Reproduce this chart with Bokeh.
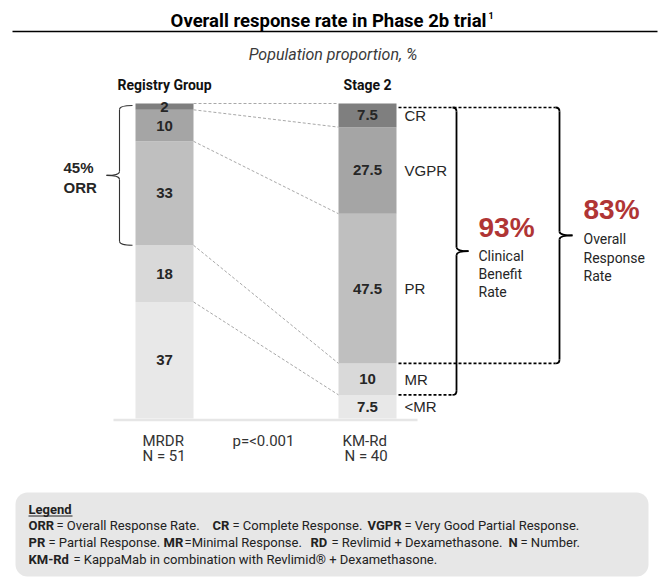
from bokeh.plotting import figure
from bokeh.models import Range1d, BoxAnnotation, ColumnDataSource
from bokeh.core.properties import value
from bokeh.embed import file_html
from bokeh.resources import INLINE
import numpy as np

# ---------------- data ----------------
categories = ["<MR", "MR", "PR", "VGPR", "CR"]          # bottom -> top
registry_values = [37, 18, 33, 10, 2]                    # MRDR, N = 51
stage2_values = [7.5, 10, 47.5, 27.5, 7.5]               # KM-Rd, N = 40
group_labels = ["Registry Group", "Stage 2"]
arm_names = ["MRDR", "KM-Rd"]
arm_n = ["N = 51", "N = 40"]
p_value_label = "p=<0.001"
registry_orr = 45
stage2_cbr = 93
stage2_orr = 83
seg_colors = ["#e8e8e8", "#d9d9d9", "#bfbfbf", "#a5a5a5", "#7f7f7f"]

# ---------------- layout helpers ----------------
PX = 3.15          # pixels per percentage point
BASE = 418         # screen y of 0 %
def Y(py):
    return (BASE - py) / PX

W, H = 660, 580
OFF = 0
p = figure(width=W, height=H, output_backend="svg", toolbar_location=None,
           x_range=Range1d(OFF, OFF + W), y_range=Range1d(Y(OFF + H), Y(OFF)),
           min_border=0, outline_line_color=None)
p.axis.visible = False
p.grid.visible = False
p.background_fill_color = "white"

SANS = value("Roboto")
ARIAL = value("Liberation Sans")
DARK = "#262626"

bar_x = [164, 367]
bar_w = 58
series = [registry_values, stage2_values]

# bars
for xc, vals in zip(bar_x, series):
    tops = np.cumsum(vals)
    bottoms = tops - np.array(vals)
    src = ColumnDataSource(dict(x=[xc] * len(vals), top=tops, bottom=bottoms,
                                color=seg_colors,
                                mid=(tops + bottoms) / 2,
                                lab=[f"{v:g}" for v in vals]))
    p.vbar(x="x", width=bar_w, top="top", bottom="bottom", fill_color="color",
           line_color=None, source=src)
    p.text(x="x", y="mid", text="lab", source=src, text_align="center",
           text_baseline="middle", text_font=ARIAL, text_font_style="bold",
           text_font_size="15px", text_color=DARK)

# baseline
p.segment(x0=113, y0=Y(419.5), x1=417, y1=Y(419.5), line_color="#e6e6e6", line_width=2.5)

# connecting grey dashed lines between boundaries
reg_cum = np.cumsum(registry_values)
st_cum = np.cumsum(stage2_values)
p.segment(x0=bar_x[0] + bar_w / 2, y0=reg_cum, x1=bar_x[1] - bar_w / 2, y1=st_cum,
          line_color="#a8a8a8", line_width=1, line_dash="3 2")

# category labels
st_mid = st_cum - np.array(stage2_values) / 2
p.text(x=[404] * len(categories), y=st_mid, text=categories, text_align="left",
       text_baseline="middle", text_font=ARIAL, text_font_size="15px", text_color=DARK)

# group labels above bars
p.text(x=bar_x, y=[Y(84)] * 2, text=group_labels, text_align="center",
       text_baseline="middle", text_font=SANS, text_font_style="bold",
       text_font_size="14px", text_color="#111111")

# arm labels below
p.text(x=[142, 342], y=[Y(440)] * 2, text=arm_names, text_align="left",
       text_baseline="middle", text_font=SANS, text_font_size="15px", text_color="#333333")
p.text(x=[142, 344], y=[Y(455)] * 2, text=arm_n, text_align="left",
       text_baseline="middle", text_font=SANS, text_font_size="15px", text_color="#333333")
p.text(x=[232], y=[Y(440)], text=[p_value_label], text_align="left",
       text_baseline="middle", text_font=SANS, text_font_size="15px", text_color="#333333")

# ---------------- braces ----------------
def brace(x0, py_top, py_bot, s, e, d, r, color, width):
    m = (py_top + py_bot) / 2
    qs = [((x0 - s * e, py_top), (x0, py_top + r), (x0, py_top)),
          ((x0, m - r), (x0 + s * d, m), (x0, m)),
          ((x0 + s * d, m), (x0, m + r), (x0, m)),
          ((x0, py_bot - r), (x0 - s * e, py_bot), (x0, py_bot))]
    p.quadratic(x0=[q[0][0] for q in qs], y0=[Y(q[0][1]) for q in qs],
                x1=[q[1][0] for q in qs], y1=[Y(q[1][1]) for q in qs],
                cx=[q[2][0] for q in qs], cy=[Y(q[2][1]) for q in qs],
                line_color=color, line_width=width)
    p.segment(x0=[x0, x0], y0=[Y(py_top + r), Y(m + r)],
              x1=[x0, x0], y1=[Y(m - r), Y(py_bot - r)],
              line_color=color, line_width=width)

top_px = 107
orr_bot_px = BASE - st_cum[1] * PX
cbr_bot_px = BASE - st_cum[0] * PX

# black dashed lines from stage-2 bar
p.segment(x0=[398, 398, 398], y0=[Y(top_px), Y(orr_bot_px), Y(cbr_bot_px)],
          x1=[555, 555, 452], y1=[Y(top_px), Y(orr_bot_px), Y(cbr_bot_px)],
          line_color="black", line_width=1.6, line_dash="3 2")

brace(456, top_px, cbr_bot_px, +1, 4, 12, 4, "black", 1.8)
brace(559, top_px, orr_bot_px, +1, 4, 13, 4, "black", 1.8)
brace(119, 105, BASE - (reg_cum[1]) * PX, -1, 13, 13, 4, "#333333", 1.1)

# big numbers
RED = "#b03535"
p.text(x=[478], y=[Y(227)], text=[f"{stage2_cbr}%"], text_align="left",
       text_baseline="middle", text_font=ARIAL, text_font_style="bold",
       text_font_size="28px", text_color=RED)
p.text(x=[583], y=[Y(209)], text=[f"{stage2_orr}%"], text_align="left",
       text_baseline="middle", text_font=ARIAL, text_font_style="bold",
       text_font_size="28px", text_color=RED)
p.text(x=[478] * 3, y=[Y(255), Y(273), Y(291)], text=["Clinical", "Benefit", "Rate"],
       text_align="left", text_baseline="middle", text_font=SANS,
       text_font_size="14px", text_color=DARK)
p.text(x=[583] * 3, y=[Y(238), Y(257), Y(275)], text=["Overall", "Response", "Rate"],
       text_align="left", text_baseline="middle", text_font=SANS,
       text_font_size="14px", text_color=DARK)

p.text(x=[63, 63], y=[Y(167), Y(187)], text=[f"{registry_orr}%", "ORR"],
       text_align="left", text_baseline="middle", text_font=ARIAL,
       text_font_style="bold", text_font_size="15px", text_color=DARK)

# ---------------- title ----------------
p.text(x=[486], y=[Y(20)], text=["Overall response rate in Phase 2b trial"],
       text_align="right", text_baseline="middle", text_font=SANS,
       text_font_style="bold", text_font_size="18.5px", text_color="black")
p.text(x=[488], y=[Y(15)], text=["1"], text_align="left", text_baseline="middle",
       text_font=SANS, text_font_style="bold", text_font_size="9px", text_color="black")
p.segment(x0=12, y0=Y(31), x1=657, y1=Y(31), line_color="black", line_width=1.5)
p.text(x=[332.5], y=[Y(54)], text=["Population proportion, %"], text_align="center",
       text_baseline="middle", text_font=SANS, text_font_style="italic",
       text_font_size="16px", text_color="#3a3a3a")

# ---------------- legend box ----------------
box = BoxAnnotation(left=15, right=648, top=Y(492), bottom=Y(576),
                    fill_color="#e7e7e7", fill_alpha=1, line_color=None,
                    border_radius=12, level="underlay")
p.add_layout(box)

LEG = value("Roboto")
def legend_line(py, parts):
    for x, txt, bold in parts:
        p.text(x=[x], y=[Y(py)], text=[txt], text_align="left", text_baseline="middle",
               text_font=LEG, text_font_style="bold" if bold else "normal",
               text_font_size="13px", text_color="#222222")

legend_line(509, [(28, "Legend", True)])
p.segment(x0=28, y0=Y(515.5), x1=72, y1=Y(515.5), line_color="#222222", line_width=1)
legend_line(525, [(28, "ORR", True), (56, "= Overall Response Rate.", False),
                  (212, "CR", True), (232, "= Complete Response.", False),
                  (367, "VGPR", True), (404, "= Very Good Partial Response.", False)])
legend_line(542, [(28, "PR", True), (48, "= Partial Response.", False),
                  (163, "MR", True), (184, "=Minimal Response.", False),
                  (310, "RD", True), (331, "= Revlimid + Dexamethasone.", False),
                  (508, "N", True), (520, "= Number.", False)])
legend_line(559, [(28, "KM-Rd", True), (73, "= KappaMab in combination with Revlimid\u00ae + Dexamethasone.", False)])

open("out.html", "w").write(file_html(p, INLINE))
